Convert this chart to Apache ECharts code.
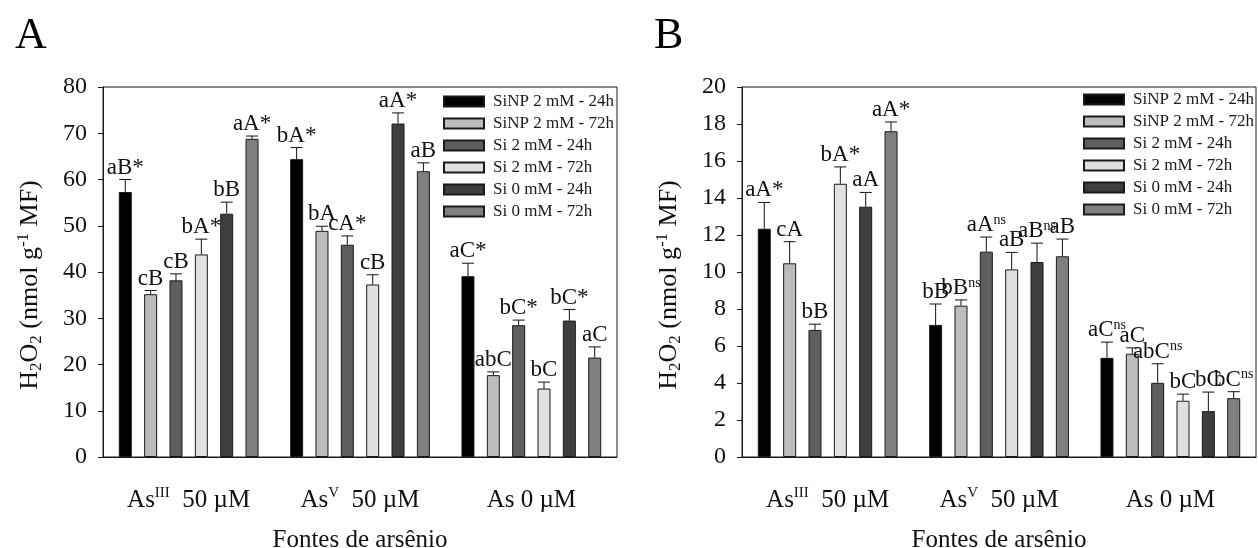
<!DOCTYPE html>
<html>
<head>
<meta charset="utf-8">
<script src="https://cdn.jsdelivr.net/npm/echarts@6/dist/echarts.min.js"></script>
<style>
  html, body { margin: 0; padding: 0; background: #fff; }
  #chart { width: 1258px; height: 548px; }
</style>
</head>
<body>
<div id="chart"></div>
<script>
// Arsenic sources on the x axis
const categories = ['AsIII 50 µM', 'AsV 50 µM', 'As 0 µM'];
const seriesNames = ['SiNP 2 mM - 24h', 'SiNP 2 mM - 72h', 'Si 2 mM - 24h', 'Si 2 mM - 72h', 'Si 0 mM - 24h', 'Si 0 mM - 72h'];

// Panel A: H2O2 means, one array per treatment (AsIII, AsV, As 0)
const aSiNP24 = [57.3, 64.4, 39.1];
const aSiNP72 = [35.2, 48.9, 17.7];
const aSi2_24 = [38.2, 45.9, 28.5];
const aSi2_72 = [43.8, 37.3, 14.8];
const aSi0_24 = [52.6, 72.1, 29.5];
const aSi0_72 = [68.8, 61.8, 21.5];
// Panel A: standard errors
const aSiNP24Err = [2.7, 2.5, 2.8];
const aSiNP72Err = [0.8, 1.0, 0.7];
const aSi2_24Err = [1.4, 1.9, 1.1];
const aSi2_72Err = [3.3, 2.1, 1.4];
const aSi0_24Err = [2.5, 2.3, 2.4];
const aSi0_72Err = [0.6, 1.8, 2.3];
// Panel A: significance letters
const aSiNP24Lab = ['aB*', 'bA*', 'aC*'];
const aSiNP72Lab = ['cB', 'bA', 'abC'];
const aSi2_24Lab = ['cB', 'cA*', 'bC*'];
const aSi2_72Lab = ['bA*', 'cB', 'bC'];
const aSi0_24Lab = ['bB', 'aA*', 'bC*'];
const aSi0_72Lab = ['aA*', 'aB', 'aC'];

// Panel B: H2O2 means
const bSiNP24 = [12.34, 7.14, 5.36];
const bSiNP72 = [10.47, 8.18, 5.58];
const bSi2_24 = [6.87, 11.10, 4.01];
const bSi2_72 = [14.77, 10.14, 3.04];
const bSi0_24 = [13.53, 10.54, 2.48];
const bSi0_72 = [17.61, 10.85, 3.18];
// Panel B: standard errors
const bSiNP24Err = [1.42, 1.13, 0.85];
const bSiNP72Err = [1.17, 0.31, 0.32];
const bSi2_24Err = [0.31, 0.79, 1.03];
const bSi2_72Err = [0.91, 0.92, 0.36];
const bSi0_24Err = [0.77, 1.02, 1.03];
const bSi0_72Err = [0.50, 0.93, 0.35];
// Panel B: significance letters ("^" marks a superscript)
const bSiNP24Lab = ['aA*', 'bB', 'aC^ns'];
const bSiNP72Lab = ['cA', 'bB^ns', 'aC'];
const bSi2_24Lab = ['bB', 'aA^ns', 'abC^ns'];
const bSi2_72Lab = ['bA*', 'aB', 'bC'];
const bSi0_24Lab = ['aA', 'aB^ns', 'bC'];
const bSi0_72Lab = ['aA*', 'aB', 'bC^ns'];

// Y axis ticks
const aTicks = { min: 0, max: 80, interval: 10 };
const bTicks = { min: 0, max: 20, interval: 2 };

const FF = "'Liberation Serif', 'Times New Roman', serif";
const fills = ['#000000', '#bcbcbc', '#5e5e5e', '#e0e0e0', '#3e3e3e', '#808080'];
const BAR_W = 13;
const BAR_GAP = 0.95; // fraction of bar width between bars in a group

const panels = [
  {
    means: [aSiNP24, aSiNP72, aSi2_24, aSi2_72, aSi0_24, aSi0_72],
    errs: [aSiNP24Err, aSiNP72Err, aSi2_24Err, aSi2_72Err, aSi0_24Err, aSi0_72Err],
    labs: [aSiNP24Lab, aSiNP72Lab, aSi2_24Lab, aSi2_72Lab, aSi0_24Lab, aSi0_72Lab],
    ticks: aTicks
  },
  {
    means: [bSiNP24, bSiNP72, bSi2_24, bSi2_72, bSi0_24, bSi0_72],
    errs: [bSiNP24Err, bSiNP72Err, bSi2_24Err, bSi2_72Err, bSi0_24Err, bSi0_72Err],
    labs: [bSiNP24Lab, bSiNP72Lab, bSi2_24Lab, bSi2_72Lab, bSi0_24Lab, bSi0_72Lab],
    ticks: bTicks
  }
];

const grids = [
  { left: 103, top: 87, width: 514, height: 370, show: true, borderColor: '#1a1a1a', borderWidth: 1, outerBoundsMode: 'none', containLabel: false },
  { left: 742, top: 87, width: 514, height: 370, show: true, borderColor: '#1a1a1a', borderWidth: 1, outerBoundsMode: 'none', containLabel: false }
];

function catLabel(v) {
  if (v.indexOf('AsIII') === 0) return '{n|As}{s|III}{n|  50 µM}';
  if (v.indexOf('AsV') === 0) return '{n|As}{s|V}{n|  50 µM}';
  return '{n|' + v + '}';
}

const xAxes = grids.map((g, i) => ({
  type: 'category',
  gridIndex: i,
  data: categories,
  axisLine: { lineStyle: { color: '#1a1a1a', width: 1 } },
  axisTick: { alignWithLabel: true, length: 9, lineStyle: { color: '#1a1a1a' } },
  axisLabel: {
    margin: 29,
    formatter: catLabel,
    rich: {
      n: { fontFamily: FF, fontSize: 25, color: '#111', lineHeight: 28 },
      s: { fontFamily: FF, fontSize: 15, color: '#111', verticalAlign: 'top', lineHeight: 15 }
    }
  },
  name: 'Fontes de arsênio',
  nameLocation: 'middle',
  nameGap: 71,
  nameTextStyle: { fontFamily: FF, fontSize: 25, color: '#111' }
}));

const yAxes = panels.map((p, i) => ({
  type: 'value',
  gridIndex: i,
  min: p.ticks.min,
  max: p.ticks.max,
  interval: p.ticks.interval,
  splitLine: { show: false },
  axisLine: { show: true, lineStyle: { color: '#1a1a1a', width: 1 } },
  axisTick: { show: true, length: 5, lineStyle: { color: '#1a1a1a' } },
  axisLabel: { fontFamily: FF, fontSize: 24, color: '#111', margin: 16 },
  name: '{n|H}{b|2}{n|O}{b|2}{n| (nmol g}{t|-1}{n| MF)}',
  nameLocation: 'middle',
  nameRotate: 90,
  nameGap: 58,
  nameTextStyle: {
    padding: [0, 26, 0, 0],
    rich: {
      n: { fontFamily: FF, fontSize: 26, color: '#111', lineHeight: 30 },
      b: { fontFamily: FF, fontSize: 17, color: '#111', verticalAlign: 'bottom', lineHeight: 17 },
      t: { fontFamily: FF, fontSize: 17, color: '#111', verticalAlign: 'top', lineHeight: 17 }
    }
  }
}));

function richLabel(s) {
  const k = s.indexOf('^');
  if (k < 0) return '{m|' + s + '}';
  return '{m|' + s.slice(0, k) + '}{u|' + s.slice(k + 1) + '}';
}

// Error bar with cap and the letter label above it, shifted to the bar slot of series k
function errorBarRenderer(k, errs, labs) {
  return function (params, api) {
    const c = api.value(0);
    const m = api.value(1);
    const e = errs[params.dataIndex];
    const base = api.coord([c, m]);
    const top = api.coord([c, m + e]);
    const x = base[0] + (k - 2.5) * (BAR_W + BAR_W * BAR_GAP);
    const half = BAR_W / 2 - 0.5;
    const line = { stroke: '#111', lineWidth: 1 };
    return {
      type: 'group',
      children: [
        { type: 'line', shape: { x1: x, y1: base[1], x2: x, y2: top[1] }, style: line },
        { type: 'line', shape: { x1: x - half, y1: top[1], x2: x + half, y2: top[1] }, style: line },
        {
          type: 'text',
          x: x,
          y: top[1],
          style: {
            text: richLabel(labs[params.dataIndex]),
            align: 'center',
            verticalAlign: 'bottom',
            rich: {
              m: { fontFamily: FF, fontSize: 23, fill: '#111', lineHeight: 24 },
              u: { fontFamily: FF, fontSize: 14, fill: '#111', verticalAlign: 'top', lineHeight: 14 }
            }
          }
        }
      ]
    };
  };
}

const series = [];
panels.forEach((p, pi) => {
  p.means.forEach((vals, k) => {
    series.push({
      type: 'bar',
      name: seriesNames[k],
      xAxisIndex: pi,
      yAxisIndex: pi,
      data: vals,
      barWidth: BAR_W,
      barGap: (BAR_GAP * 100) + '%',
      itemStyle: { color: fills[k], borderColor: '#1a1a1a', borderWidth: 1 },
      animation: false
    });
  });
  p.means.forEach((vals, k) => {
    series.push({
      type: 'custom',
      name: 'err' + pi + '_' + k,
      xAxisIndex: pi,
      yAxisIndex: pi,
      data: vals.map((v, c) => [c, v]),
      renderItem: errorBarRenderer(k, p.errs[k], p.labs[k]),
      z: 5,
      silent: true,
      animation: false
    });
  });
});

const legendBase = {
  orient: 'vertical',
  padding: 0,
  itemWidth: 40,
  itemHeight: 10,
  itemGap: 5,
  icon: 'rect',
  selectedMode: false,
  data: seriesNames,
  textStyle: { fontFamily: FF, fontSize: 17, color: '#1a1a1a', lineHeight: 17, padding: [0, 0, 0, 4] }
};

const option = {
  animation: false,
  backgroundColor: '#ffffff',
  grid: grids,
  xAxis: xAxes,
  yAxis: yAxes,
  legend: [
    Object.assign({}, legendBase, { left: 443, top: 93 }),
    Object.assign({}, legendBase, { left: 1083, top: 91 })
  ],
  graphic: [
    { type: 'text', left: 15, top: 14, style: { text: 'A', font: "44px 'Liberation Serif', serif", fill: '#000' } },
    { type: 'text', left: 654, top: 14, style: { text: 'B', font: "44px 'Liberation Serif', serif", fill: '#000' } }
  ],
  series: series
};

const chart = echarts.init(document.getElementById('chart'), null, { renderer: 'canvas' });
chart.setOption(option);
</script>
</body>
</html>
